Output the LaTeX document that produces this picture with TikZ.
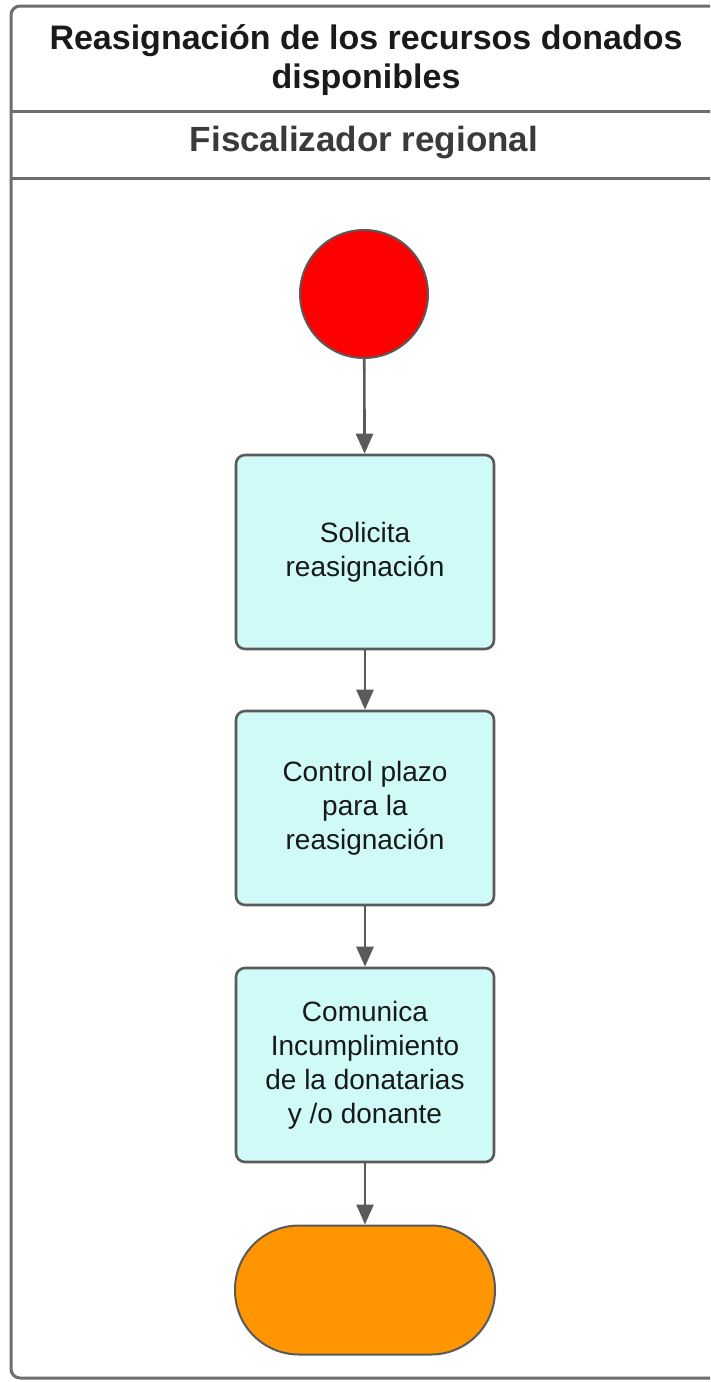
\documentclass[tikz,border=0pt]{standalone}
\usepackage{fontspec}
\setmainfont{Liberation Sans}
\usetikzlibrary{arrows.meta}
\definecolor{lineg}{HTML}{5A5A5A}
\definecolor{frameg}{HTML}{6E6E6E}
\definecolor{actfill}{HTML}{CFFAF8}
\definecolor{startred}{HTML}{FF0000}
\definecolor{endorange}{HTML}{FF9500}
\definecolor{titletext}{HTML}{1A1A1A}
\definecolor{lanetext}{HTML}{3A3A3A}
\tikzset{
  px/.style={x=1pt,y=-1pt},
  activity/.style={draw=lineg, line width=2.6pt, fill=actfill, rounded corners=9pt,
    minimum width=258pt, minimum height=194pt, align=center,
    font=\fontsize{28}{34}\selectfont, text=black!90},
  flow/.style={draw=lineg, line width=2.6pt, -{Triangle[length=20pt,width=17pt]}},
}
\begin{document}
\begin{tikzpicture}[px]
\useasboundingbox (0,0) rectangle (710,1382);
\fill[white] (0,0) rectangle (710,1382);
\begin{scope}
\clip (0,0) rectangle (710,1382);
% swimlane frame
\draw[frameg, line width=3pt, rounded corners=9pt] (740,6) -- (11,6) -- (11,1378) -- (740,1378);
\draw[frameg, line width=3pt] (11,111) -- (740,111);
\draw[frameg, line width=3pt] (11,178) -- (740,178);
\end{scope}
% headings
\node[font=\fontsize{34}{39}\selectfont\bfseries, text=titletext, align=center] (title) at (366,60)
  {Reasignación de los recursos donados\\disponibles};
\node[font=\fontsize{35}{40}\selectfont\bfseries, text=lanetext] (lane) at (364,143) {Fiscalizador regional};
% flow
\node[circle, draw=lineg, line width=2pt, fill=startred, minimum size=128pt, inner sep=0pt] (start) at (364,294) {};
\node[activity] (a1) at (365,552) {Solicita\\reasignación};
\node[activity] (a2) at (365,808) {Control plazo\\para la\\reasignación};
\node[activity] (a3) at (365,1065) {Comunica\\Incumplimiento\\de la donatarias\\y /o donante};
\node[draw=lineg, line width=2pt, fill=endorange, rounded corners=64pt, minimum width=260pt, minimum height=129pt] (end) at (365,1290) {};
\draw[flow] (start) -- (a1);
\draw[flow] (a1) -- (a2);
\draw[flow] (a2) -- (a3);
\draw[flow] (a3) -- (end);
\end{tikzpicture}
\end{document}
